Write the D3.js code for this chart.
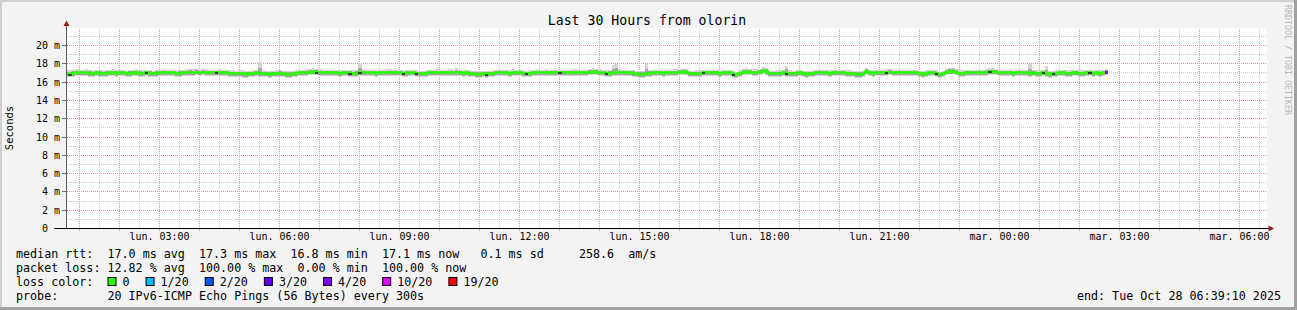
<!DOCTYPE html>
<html><head><meta charset="utf-8">
<script src="https://cdn.jsdelivr.net/npm/d3@7"></script>
<style>
html,body{margin:0;padding:0;background:#f3f3f3;overflow:hidden}
svg{display:block}
text{font-family:"DejaVu Sans Mono",monospace}
</style>
</head><body>
<script>
// ---------------- data ----------------
const title = "Last 30 Hours from olorin";
const yAxisTitle = "Seconds";
const watermark = "RRDTOOL / TOBI OETIKER";
const startTime = "2025-10-27T00:39:10Z";
const endTime = "2025-10-28T06:39:10Z";
const stepSeconds = 300;
const yMax = 21.858; // ms

const yTickValues = [0, 2, 4, 6, 8, 10, 12, 14, 16, 18, 20];
const yTickLabels = ["0", "2 m", "4 m", "6 m", "8 m", "10 m", "12 m", "14 m", "16 m", "18 m", "20 m"];
const xTickLabels = ["lun. 03:00", "lun. 06:00", "lun. 09:00", "lun. 12:00", "lun. 15:00",
  "lun. 18:00", "lun. 21:00", "mar. 00:00", "mar. 03:00", "mar. 06:00"];

// median rtt per 300 s sample (ms)
const median = [
  16.9,16.85,16.95,17.0,17.0,17.05,17.0,16.95,16.95,17.0,
  16.95,16.9,16.95,17.0,17.0,16.95,17.0,17.0,16.9,16.95,
  17.0,17.0,16.95,16.95,17.0,16.95,16.9,16.95,17.0,17.0,
  17.0,17.0,17.0,16.95,16.95,17.0,17.0,17.05,17.05,17.1,
  17.05,17.1,17.05,17.05,17.0,17.0,17.05,17.0,17.0,16.95,
  16.95,16.9,16.95,16.9,16.85,16.9,16.95,17.0,16.95,16.9,
  16.9,16.85,16.9,16.95,16.95,16.9,16.85,16.85,16.9,16.95,
  17.0,17.0,17.05,17.1,17.15,17.1,17.05,17.05,17.0,17.0,
  17.0,17.0,16.95,17.0,17.0,16.95,16.9,16.95,17.0,17.0,
  17.0,17.0,17.0,16.95,17.0,17.0,17.0,17.05,17.0,17.0,
  17.0,16.95,16.95,17.0,17.0,16.95,16.9,16.9,16.95,17.0,
  17.0,17.05,17.0,17.0,17.0,17.05,17.0,17.0,17.0,16.95,
  17.0,16.95,16.9,16.85,16.85,16.9,16.85,16.9,16.95,17.0,
  17.0,17.0,17.0,16.95,17.0,17.0,17.0,16.95,16.9,16.95,
  17.0,17.0,17.0,17.0,17.05,17.0,17.0,17.0,17.0,17.0,
  17.0,17.0,17.0,17.05,17.0,17.0,17.0,17.1,17.15,17.1,
  17.05,17.0,16.95,16.95,17.0,17.0,17.0,17.0,17.0,17.0,
  16.95,16.9,16.85,16.85,16.9,16.95,17.0,17.0,17.0,16.95,
  17.0,17.0,17.05,17.05,17.1,17.15,17.1,16.9,16.9,16.95,
  16.95,17.0,17.0,17.0,17.0,17.0,16.95,17.0,17.0,17.0,
  16.85,16.8,16.95,17.1,17.15,17.1,17.05,17.05,17.1,17.3,
  17.2,16.9,16.9,16.95,16.95,17.0,16.95,16.95,16.9,16.95,
  17.0,16.9,16.85,16.9,16.95,17.0,17.0,17.0,17.0,16.95,
  17.0,17.0,17.0,17.0,16.95,16.95,16.9,16.85,16.85,16.9,
  17.2,17.0,16.95,17.0,17.0,17.0,17.05,17.1,17.0,17.0,
  17.0,17.0,17.0,17.0,17.0,17.0,16.9,16.85,16.95,17.0,
  17.0,16.95,16.8,16.9,17.1,17.2,17.2,17.1,16.95,16.95,
  17.0,17.0,17.0,17.0,17.0,17.0,17.05,17.15,17.15,17.1,
  17.0,17.0,17.0,17.0,16.95,17.0,17.0,17.0,17.0,16.95,
  17.0,16.95,16.95,17.0,16.9,16.85,16.9,16.95,17.0,17.0,
  16.95,16.95,17.0,17.0,16.95,16.95,17.0,17.0,16.95,17.0,
  16.95,17.0,17.1
];

// highest ping of each sample (ms)
const smokeHi = [
  17.3,17.25,17.3,17.35,17.3,17.3,17.4,17.3,17.25,17.3,
  17.3,17.25,17.3,17.3,17.35,17.3,17.3,17.25,17.2,17.3,
  17.3,17.35,17.3,17.25,17.3,17.3,17.2,17.3,17.3,17.35,
  17.3,17.3,17.3,17.25,17.3,17.3,17.35,17.4,17.35,17.4,
  17.35,17.4,17.35,17.3,17.3,17.3,17.35,17.3,17.3,17.25,
  17.25,17.2,17.25,17.3,17.2,17.2,17.25,17.3,18.1,17.3,
  17.2,17.15,17.2,17.25,17.3,17.2,17.15,17.2,17.2,17.25,
  17.3,17.3,17.35,17.4,17.45,17.4,17.35,17.3,17.3,17.3,
  17.3,17.3,17.25,17.3,17.3,17.3,17.25,17.3,18.05,17.35,
  17.3,17.3,17.3,17.25,17.3,17.3,17.35,17.35,17.3,17.3,
  17.3,17.25,17.3,17.3,17.3,17.25,17.2,17.2,17.25,17.3,
  17.3,17.35,17.3,17.3,17.3,17.35,17.3,17.45,17.3,17.25,
  17.3,17.25,17.2,17.15,17.2,17.2,17.15,17.2,17.25,17.3,
  17.3,17.3,17.3,17.25,17.35,17.3,17.3,17.25,17.2,17.25,
  17.3,17.35,17.3,17.3,17.35,17.3,17.3,17.3,17.3,17.3,
  17.3,17.3,17.35,17.35,17.3,17.3,17.3,17.4,17.45,17.4,
  17.35,17.3,17.25,17.3,17.8,17.9,17.35,17.3,17.3,17.3,
  17.3,17.2,17.15,17.2,17.9,17.3,17.3,17.3,17.3,17.25,
  17.3,17.3,17.35,17.35,17.4,17.45,17.4,17.2,17.2,17.25,
  17.25,17.3,17.3,17.3,17.3,17.3,17.25,17.3,17.3,17.3,
  17.15,17.1,17.25,17.4,17.45,17.4,17.35,17.35,17.4,17.55,
  17.5,17.2,17.2,17.25,17.25,17.3,17.7,17.25,17.2,17.25,
  17.3,17.2,17.15,17.2,17.25,17.3,17.3,17.3,17.3,17.25,
  17.3,17.3,17.3,17.3,17.25,17.25,17.2,17.15,17.15,17.2,
  17.5,17.3,17.25,17.3,17.3,17.3,17.35,17.4,17.3,17.3,
  17.3,17.3,17.3,17.3,17.3,17.3,17.2,17.15,17.25,17.3,
  17.3,17.25,17.1,17.2,17.4,17.5,17.5,17.4,17.25,17.25,
  17.3,17.3,17.3,17.3,17.3,17.3,17.35,17.45,17.45,17.4,
  17.3,17.3,17.3,17.3,17.25,17.3,17.3,17.3,17.3,17.9,
  17.3,17.25,17.25,17.3,17.7,17.15,17.2,17.25,17.3,17.3,
  17.25,17.25,17.3,17.3,17.25,17.25,17.3,17.3,17.25,17.3,
  17.25,17.3,17.35
];

// lowest ping of each sample (ms)
const smokeLo = [
  16.65,16.6,16.65,16.7,16.7,16.7,16.7,16.65,16.6,16.7,
  16.65,16.6,16.6,16.7,16.7,16.65,16.7,16.7,16.6,16.65,
  16.7,16.7,16.65,16.6,16.7,16.65,16.6,16.6,16.7,16.7,
  16.7,16.7,16.7,16.65,16.6,16.7,16.7,16.75,16.75,16.8,
  16.75,16.8,16.75,16.75,16.7,16.7,16.75,16.7,16.7,16.65,
  16.65,16.6,16.6,16.55,16.55,16.6,16.65,16.7,16.65,16.6,
  16.6,16.55,16.6,16.6,16.65,16.6,16.55,16.55,16.6,16.65,
  16.7,16.7,16.75,16.8,16.85,16.8,16.75,16.7,16.7,16.7,
  16.7,16.7,16.65,16.7,16.7,16.65,16.6,16.6,16.7,16.7,
  16.7,16.7,16.7,16.65,16.7,16.7,16.7,16.75,16.7,16.7,
  16.7,16.65,16.6,16.7,16.7,16.6,16.6,16.6,16.65,16.7,
  16.7,16.75,16.7,16.7,16.7,16.75,16.7,16.7,16.7,16.65,
  16.7,16.65,16.6,16.55,16.55,16.6,16.55,16.6,16.65,16.7,
  16.7,16.7,16.7,16.65,16.7,16.7,16.7,16.65,16.6,16.65,
  16.7,16.7,16.7,16.7,16.75,16.7,16.7,16.7,16.7,16.7,
  16.7,16.7,16.7,16.75,16.7,16.7,16.7,16.8,16.85,16.8,
  16.75,16.7,16.6,16.65,16.7,16.7,16.7,16.7,16.7,16.7,
  16.65,16.6,16.55,16.55,16.6,16.65,16.7,16.7,16.7,16.65,
  16.7,16.7,16.75,16.75,16.8,16.85,16.8,16.6,16.6,16.65,
  16.65,16.7,16.7,16.7,16.7,16.7,16.65,16.7,16.7,16.7,
  16.55,16.5,16.65,16.8,16.85,16.8,16.75,16.75,16.8,16.9,
  16.85,16.6,16.6,16.65,16.65,16.7,16.65,16.65,16.6,16.65,
  16.7,16.6,16.55,16.6,16.65,16.7,16.7,16.7,16.7,16.65,
  16.7,16.7,16.7,16.7,16.65,16.65,16.6,16.55,16.55,16.6,
  16.9,16.7,16.65,16.7,16.7,16.7,16.75,16.8,16.7,16.7,
  16.7,16.7,16.7,16.7,16.7,16.7,16.6,16.55,16.65,16.7,
  16.7,16.65,16.5,16.6,16.8,16.9,16.9,16.8,16.65,16.65,
  16.7,16.7,16.7,16.7,16.7,16.7,16.75,16.85,16.85,16.8,
  16.7,16.7,16.7,16.7,16.65,16.7,16.7,16.7,16.7,16.65,
  16.7,16.65,16.65,16.7,16.6,16.55,16.6,16.65,16.7,16.7,
  16.65,16.65,16.7,16.7,16.65,16.65,16.7,16.7,16.65,16.7,
  16.65,16.7,16.8
];

// samples whose median is drawn dark, and samples with packet loss
const darkSamples = [1,24,45,75,85,88,101,105,126,138,148,162,191,200,216,246,261,277,293,296,307];
const lossSampleIndex = [312];
const lossSampleCount = [4];

// legend
const lossLevels = [0, 1, 2, 3, 4, 10, 19];
const lossLabels = ["0", "1/20", "2/20", "3/20", "4/20", "10/20", "19/20"];
const lossColors = ["#26ff00", "#00b8ff", "#0059ff", "#5e00ff", "#7e00ff", "#dd00ff", "#ff0000"];
const legendLines = [
  "median rtt:  17.0 ms avg  17.3 ms max  16.8 ms min  17.1 ms now   0.1 ms sd     258.6  am/s",
  "packet loss: 12.82 % avg  100.00 % max  0.00 % min  100.00 % now"
];
const lossLegendTitle = "loss color:";
const probeLine = "probe:       20 IPv6-ICMP Echo Pings (56 Bytes) every 300s";
const endLine = "end: Tue Oct 28 06:39:10 2025";

// ---------------- drawing ----------------
const W = 1297, H = 310;
const PX0 = 66, PX1 = 1267, PY0 = 228, PY1 = 28;
const t0 = new Date(startTime), t1 = new Date(endTime);

const x = d3.scaleUtc().domain([t0, t1]).rangeRound([65.111, 1265.111]);
const y = d3.scaleLinear().domain([0, yMax]).rangeRound([PY0, PY1]);

const svg = d3.select("body").append("svg").attr("width", W).attr("height", H);

// background & frame
svg.append("rect").attr("width", W).attr("height", H).attr("fill", "#f3f3f3");
svg.append("rect").attr("x", 0).attr("y", 0).attr("width", W).attr("height", 2).attr("fill", "#d0d0d0");
svg.append("rect").attr("x", 0).attr("y", 0).attr("width", 2).attr("height", H).attr("fill", "#d0d0d0");
svg.append("rect").attr("x", 0).attr("y", H - 3).attr("width", W).attr("height", 3).attr("fill", "#a0a0a0");
svg.append("rect").attr("x", W - 3).attr("y", 0).attr("width", 3).attr("height", H).attr("fill", "#a0a0a0");

// plot area
svg.append("rect").attr("x", PX0).attr("y", PY1).attr("width", PX1 - PX0).attr("height", PY0 - PY1).attr("fill", "#ffffff");

const gridMinor = "#cccccc", gridMajor = "#e99494";

function styleGrid(sel, color) {
  sel.select(".domain").remove();
  sel.selectAll(".tick line").attr("stroke", color).attr("stroke-dasharray", "1,1");
}

// horizontal grid
const yMinorVals = d3.range(1, 22, 2);
const yMajorVals = d3.range(2, 21, 2);
svg.append("g").attr("transform", `translate(${PX0 + 1},0)`)
  .call(d3.axisLeft(y).tickValues(yMinorVals).tickSize(-(PX1 - PX0 - 1)).tickFormat(""))
  .call(s => styleGrid(s, gridMinor));
svg.append("g").attr("transform", `translate(${PX0 + 1},0)`)
  .call(d3.axisLeft(y).tickValues(yMajorVals).tickSize(-(PX1 - PX0 - 1)).tickFormat(""))
  .call(s => styleGrid(s, gridMajor));

// vertical grid
const halfHours = d3.utcMinute.every(30).range(t0, t1).filter(d => d.getUTCMinutes() === 30);
const hours = d3.utcHour.every(1).range(t0, t1);
svg.append("g").attr("transform", `translate(0,${PY0})`)
  .call(d3.axisBottom(x).tickValues(halfHours).tickSize(-(PY0 - PY1)).tickFormat(""))
  .call(s => styleGrid(s, gridMinor));
svg.append("g").attr("transform", `translate(0,${PY0})`)
  .call(d3.axisBottom(x).tickValues(hours).tickSize(-(PY0 - PY1)).tickFormat(""))
  .call(s => styleGrid(s, gridMajor));
// small hour ticks below the axis
svg.append("g").attr("transform", `translate(0,${PY0})`)
  .call(d3.axisBottom(x).tickValues(hours).tickSize(3).tickFormat(""))
  .call(s => { s.select(".domain").remove(); s.selectAll(".tick line").attr("stroke", "#e8a0a0"); });

// samples
const stepMs = stepSeconds * 1000;
const samples = median.map((m, i) => ({
  t: new Date(t0.getTime() + i * stepMs),
  m, lo: smokeLo[i], hi: smokeHi[i]
}));
const last = samples[samples.length - 1];
const pts = samples.concat([{ t: new Date(t0.getTime() + samples.length * stepMs), m: last.m, lo: last.lo, hi: last.hi }]);

const plot = svg.append("g");
plot.append("clipPath").attr("id", "clip").append("rect")
  .attr("x", PX0 + 1).attr("y", PY1).attr("width", PX1 - PX0 - 1).attr("height", PY0 - PY1);
const pg = plot.append("g").attr("clip-path", "url(#clip)");

// smoke (outer)
pg.append("path").datum(pts)
  .attr("fill", "#d4d4d4")
  .attr("d", d3.area().curve(d3.curveStepAfter).x(d => x(d.t)).y0(d => y(d.lo) + 1).y1(d => y(d.hi)));
// smoke (inner)
pg.append("path").datum(pts)
  .attr("fill", "#a6a6a6")
  .attr("d", d3.area().curve(d3.curveStepAfter).x(d => x(d.t))
    .y0(d => y(d.m - (d.m - d.lo) * 0.7) + 1).y1(d => y(d.m + (d.hi - d.m) * 0.5)));

// median line
pg.append("path").datum(pts)
  .attr("fill", "none").attr("stroke", lossColors[0]).attr("stroke-width", 2.4)
  .attr("d", d3.line().curve(d3.curveStepAfter).x(d => x(d.t)).y(d => y(d.m) + 0.5));

// dark samples
pg.selectAll("line.dark").data(darkSamples).join("line").attr("class", "dark")
  .attr("x1", i => x(samples[i].t)).attr("x2", i => x(pts[i + 1].t))
  .attr("y1", i => y(samples[i].m) + 1).attr("y2", i => y(samples[i].m) + 1)
  .attr("stroke", "#3a3a3a").attr("stroke-width", 2);

// loss-coloured samples
function lossColor(n) {
  let c = lossColors[0];
  lossLevels.forEach((l, k) => { if (n >= l) c = lossColors[k]; });
  return c;
}
pg.selectAll("line.loss").data(lossSampleIndex).join("line").attr("class", "loss")
  .attr("x1", i => x(samples[i].t)).attr("x2", i => x(pts[i + 1].t))
  .attr("y1", i => y(samples[i].m) + 0.5).attr("y2", i => y(samples[i].m) + 0.5)
  .attr("stroke", (i, k) => lossColor(lossSampleCount[k])).attr("stroke-width", 3);

// y axis with labels
const yAxisG = svg.append("g").attr("transform", `translate(${PX0},0)`)
  .call(d3.axisLeft(y).tickValues(yTickValues).tickSize(4).tickPadding(2)
    .tickFormat((d, i) => yTickLabels[i]));
yAxisG.select(".domain").remove();
yAxisG.selectAll(".tick line").attr("stroke", "#707070");
yAxisG.selectAll(".tick text")
  .attr("font-family", "DejaVu Sans Mono").attr("font-size", 10).attr("fill", "#000")
  .attr("dx", (d, i) => yTickLabels[i].indexOf(" ") < 0 ? -12 : 0);

// x axis labels
const xAxisG = svg.append("g").attr("transform", `translate(0,${PY0})`)
  .call(d3.axisBottom(x).ticks(d3.utcHour.every(3)).tickSize(0).tickPadding(5)
    .tickFormat((d, i) => xTickLabels[i]));
xAxisG.select(".domain").remove();
xAxisG.selectAll(".tick text")
  .attr("font-family", "DejaVu Sans Mono").attr("font-size", 10).attr("fill", "#000");

// axis lines
svg.append("line").attr("x1", PX0 + 0.5).attr("x2", PX0 + 0.5).attr("y1", PY0 + 0.5).attr("y2", 24)
  .attr("stroke", "#5a5a5a").attr("stroke-width", 1);
svg.append("line").attr("x1", 54).attr("x2", 1269).attr("y1", PY0 + 0.5).attr("y2", PY0 + 0.5)
  .attr("stroke", "#000").attr("stroke-width", 1);
// arrows
svg.append("path").attr("d", `M${PX0 + 0.5},20.5 L${PX0 + 3.5},26 L${PX0 - 2.5},26 Z`).attr("fill", "#9b1c1c");
svg.append("path").attr("d", `M1274,${PY0 + 0.5} L1268.5,${PY0 - 2.5} L1268.5,${PY0 + 3.5} Z`).attr("fill", "#9b1c1c");

// title
svg.append("text").attr("x", 647).attr("y", 25).attr("text-anchor", "middle")
  .attr("font-size", 13.2).attr("fill", "#000").text(title);

// y axis title
svg.append("text").attr("transform", "translate(13,128) rotate(-90)").attr("text-anchor", "middle")
  .attr("font-size", 10.5).attr("fill", "#000").text(yAxisTitle);

// watermark
svg.append("text").attr("transform", "translate(1284.5,5) rotate(90)")
  .attr("font-size", 8.3).attr("fill", "#b8b8b8").text(watermark);

// legend
const LX = 16, CW = 7.04, FS = 11.7;
const baselines = [257.5, 271.5, 285.5, 299.5];
legendLines.forEach((s, i) => {
  svg.append("text").attr("x", LX).attr("y", baselines[i]).attr("font-size", FS)
    .attr("fill", "#000").attr("xml:space", "preserve").style("white-space", "pre").text(s);
});
svg.append("text").attr("x", LX).attr("y", baselines[2]).attr("font-size", FS).attr("fill", "#000").text(lossLegendTitle);
let bx = LX + 13 * CW;
lossLabels.forEach((lab, k) => {
  svg.append("rect").attr("x", bx + 0.5).attr("y", 277.5).attr("width", 8).attr("height", 8)
    .attr("fill", lossColors[k]).attr("stroke", "#000").attr("stroke-width", 1);
  svg.append("text").attr("x", bx + 15).attr("y", baselines[2]).attr("font-size", FS).attr("fill", "#000").text(lab);
  bx = bx + 15 + lab.length * CW + 16;
});
svg.append("text").attr("x", LX).attr("y", baselines[3]).attr("font-size", FS)
  .attr("fill", "#000").attr("xml:space", "preserve").style("white-space", "pre").text(probeLine);
svg.append("text").attr("x", 1281).attr("y", baselines[3]).attr("text-anchor", "end").attr("font-size", FS)
  .attr("fill", "#000").text(endLine);
</script>
</body></html>
